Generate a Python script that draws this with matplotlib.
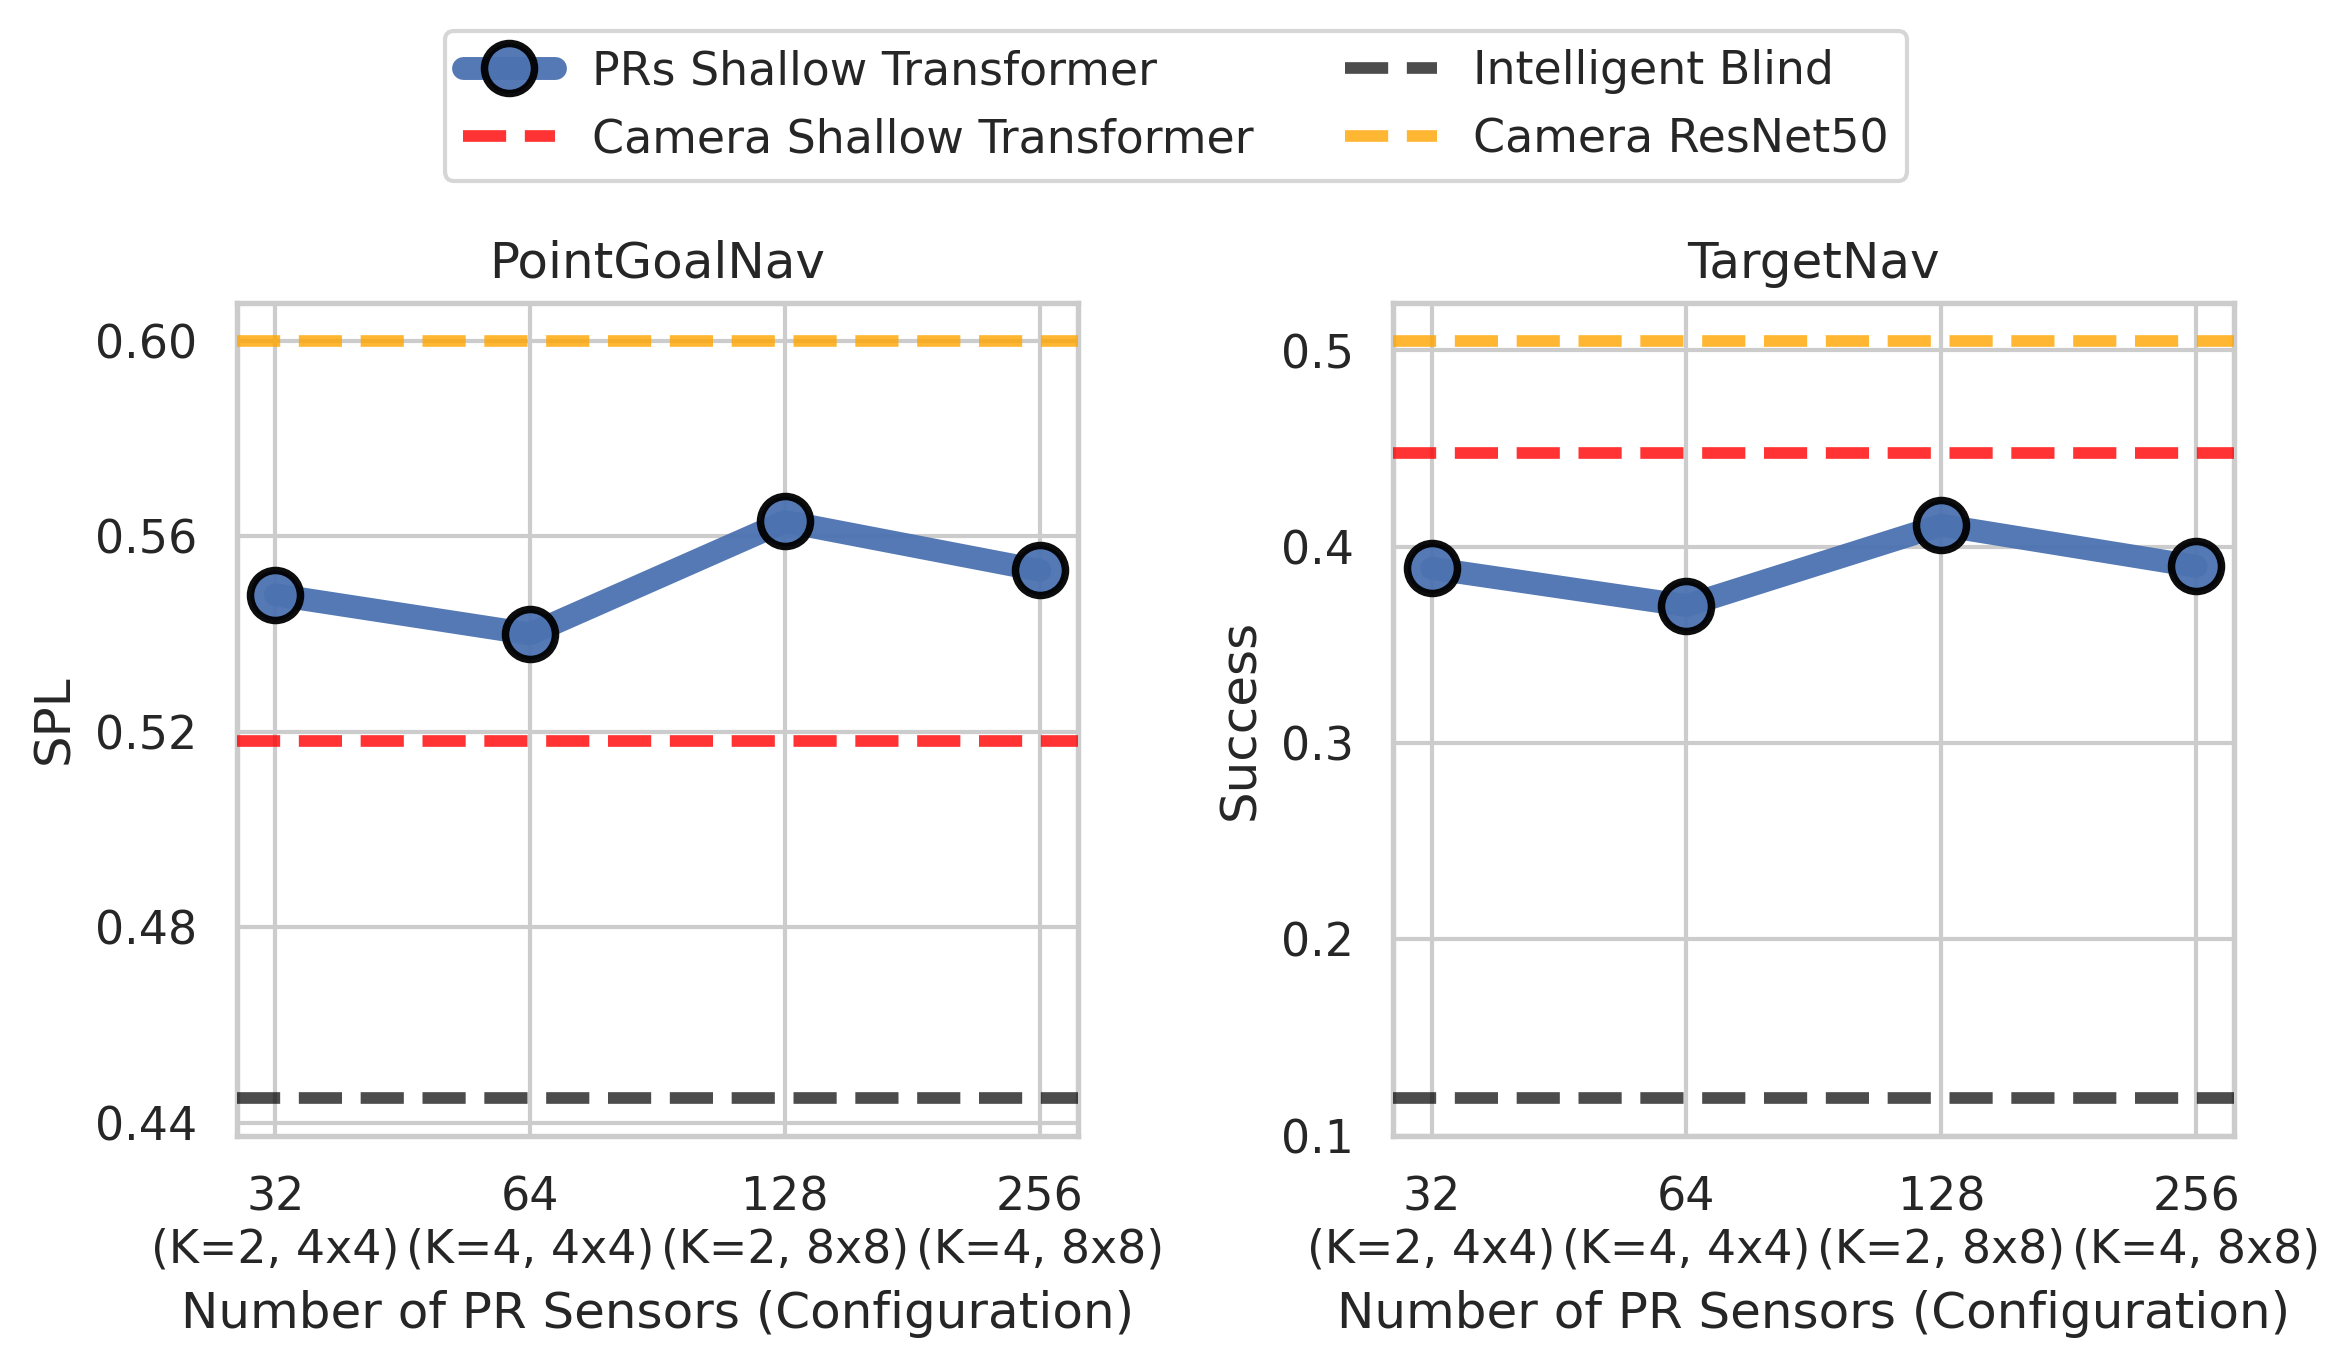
"""
PR sensor count vs. navigation performance (PointGoalNav SPL / TargetNav Success)
Saves out.png
"""

import matplotlib.pyplot as plt
import seaborn as sns
import numpy as np

# ---- data ----
n_sensors   = ['32', '64', '128', '256']
configs     = ['(K=2, 4x4)', '(K=4, 4x4)', '(K=2, 8x8)', '(K=4, 8x8)']
tasks       = ['PointGoalNav', 'TargetNav']
ylabels     = ['SPL', 'Success']

prs_spl     = [0.548, 0.540, 0.563, 0.553]
prs_success = [0.389, 0.370, 0.411, 0.390]

cam_shallow = [0.518, 0.448]   # PointGoalNav, TargetNav
cam_resnet  = [0.600, 0.505]
blind       = [0.445, 0.119]

sns.set_theme(style='whitegrid')
plt.rcParams['font.family'] = ['DejaVu Sans']

fig, axes = plt.subplots(1, 2, figsize=(7.84, 4.547), dpi=300)
fig.subplots_adjust(left=0.1008, right=0.950, bottom=0.167, top=0.778, wspace=0.375)

x = np.arange(len(n_sensors))
ticklabels = [f'{n}\n{c}' for n, c in zip(n_sensors, configs)]
prs_vals = [prs_spl, prs_success]

for i, ax in enumerate(axes):
    ax.plot(x, prs_vals[i], '-o', color='#4c72b0', lw=5.5, ms=12, mec='black', mew=1.8,
            alpha=0.95, label='PRs Shallow Transformer', zorder=5)
    ax.axhline(cam_shallow[i], color='red', ls='--', lw=2.8, alpha=0.8,
               label='Camera Shallow Transformer', zorder=3)
    ax.axhline(blind[i], color='black', ls='--', lw=2.8, alpha=0.7,
               label='Intelligent Blind', zorder=3)
    ax.axhline(cam_resnet[i], color='orange', ls='--', lw=2.8, alpha=0.8,
               label='Camera ResNet50', zorder=3)
    ax.set_title(tasks[i], fontsize=12)
    ax.set_ylabel(ylabels[i], fontsize=12)
    ax.set_xlabel('Number of PR Sensors (Configuration)', fontsize=12)
    ax.set_xticks(x); ax.set_xticklabels(ticklabels, fontsize=11)
    ax.tick_params(axis='y', labelsize=11)
    for s in ax.spines.values():
        s.set_linewidth(1.3)

axes[0].set_yticks([0.44, 0.48, 0.52, 0.56, 0.60])
axes[0].set_yticklabels(['0.44', '0.48', '0.52', '0.56', '0.60'])
axes[1].set_yticks([0.1, 0.2, 0.3, 0.4, 0.5])

handles, labels = axes[0].get_legend_handles_labels()
fig.legend(handles, labels, loc='upper center', bbox_to_anchor=(0.5, 0.994), ncol=2,
           fontsize=11, frameon=True, columnspacing=2.0, handlelength=2.0)

plt.savefig('out.png', dpi=300)
